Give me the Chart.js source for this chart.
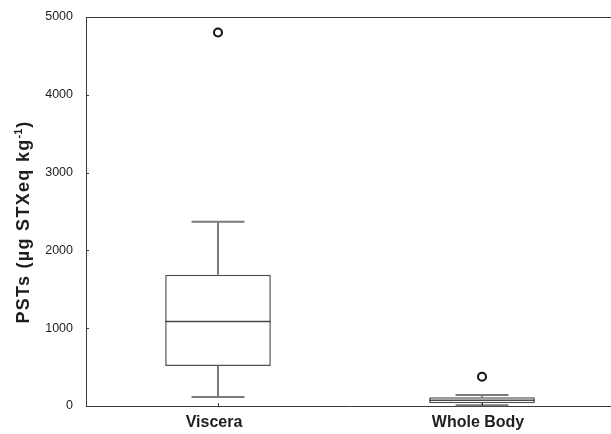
<!DOCTYPE html>
<html>
<head>
<meta charset="utf-8">
<script src="https://cdn.jsdelivr.net/npm/chart.js@4/dist/chart.umd.min.js"></script>
<style>
  html, body { margin: 0; padding: 0; background: #fff; overflow: hidden; }
  #wrap { width: 616px; height: 434px; }
</style>
</head>
<body>
<div id="wrap"><canvas id="c" width="616" height="434"></canvas></div>
<script>
// ---- data ----
const categories   = ['Viscera', 'Whole Body'];
const whiskerLow   = [116, 9];
const quartile1    = [515, 35];
const medianValues = [1085, 73];
const quartile3    = [1686, 112];
const whiskerHigh  = [2368, 142];
const outlierVals  = [4800, 377];
const yTicks       = [0, 1000, 2000, 3000, 4000, 5000];
const yTitleMain   = 'PSTs (µg STXeq kg';
const yTitleSup    = '-1';
const yTitleEnd    = ')';

const FONT = '"Liberation Sans", Arial, Helvetica, sans-serif';
const AXIS_COLOR = '#3a3a3a';

const boxPlugin = {
  id: 'boxParts',
  afterDatasetsDraw(chart) {
    const ctx = chart.ctx;
    const y = chart.scales.y;
    const meta = chart.getDatasetMeta(0);
    ctx.save();
    meta.data.forEach((bar, i) => {
      const cx = bar.x;
      const half = bar.width / 2;
      const capHalf = bar.width * 0.25;
      const pHigh = y.getPixelForValue(whiskerHigh[i]);
      const pQ3 = y.getPixelForValue(quartile3[i]);
      const pQ1 = y.getPixelForValue(quartile1[i]);
      const pLow = y.getPixelForValue(whiskerLow[i]);
      const pMed = y.getPixelForValue(medianValues[i]);
      // whiskers
      ctx.strokeStyle = '#7a7a7a';
      ctx.lineWidth = 2;
      ctx.beginPath();
      ctx.moveTo(cx, pQ3); ctx.lineTo(cx, pHigh);
      ctx.moveTo(cx, pQ1); ctx.lineTo(cx, pLow);
      ctx.moveTo(cx - capHalf, pHigh); ctx.lineTo(cx + capHalf, pHigh);
      ctx.moveTo(cx - capHalf, pLow); ctx.lineTo(cx + capHalf, pLow);
      ctx.stroke();
      // median
      ctx.strokeStyle = '#4a4a4a';
      ctx.lineWidth = 1.5;
      ctx.beginPath();
      ctx.moveTo(cx - half, pMed); ctx.lineTo(cx + half, pMed);
      ctx.stroke();
    });
    ctx.restore();
  },
  afterDraw(chart) {
    const ctx = chart.ctx;
    const a = chart.chartArea;
    const y = chart.scales.y;
    const x = chart.scales.x;
    ctx.save();
    ctx.strokeStyle = AXIS_COLOR;
    ctx.lineWidth = 1;
    // top frame line
    ctx.beginPath();
    ctx.moveTo(a.left, a.top + 0.5); ctx.lineTo(a.right, a.top + 0.5);
    ctx.stroke();
    // inward ticks
    ctx.beginPath();
    yTicks.forEach(v => {
      const py = Math.round(y.getPixelForValue(v)) + 0.5;
      ctx.moveTo(a.left, py); ctx.lineTo(a.left + 3, py);
    });
    categories.forEach((c, i) => {
      const px = Math.round(x.getPixelForValue(i)) + 0.5;
      ctx.moveTo(px, a.bottom); ctx.lineTo(px, a.bottom - 3);
    });
    ctx.stroke();
    // y axis title (rotated, with superscript)
    const mainFont = 'bold 18px ' + FONT;
    const supFont = 'bold 11px ' + FONT;
    ctx.font = mainFont;
    ctx.letterSpacing = '1.3px';
    const w1 = ctx.measureText(yTitleMain).width;
    const w3 = ctx.measureText(yTitleEnd).width;
    ctx.font = supFont;
    ctx.letterSpacing = '0px';
    const w2 = ctx.measureText(yTitleSup).width + 1;
    const total = w1 + w2 + w3;
    ctx.translate(24, 222);
    ctx.rotate(-Math.PI / 2);
    ctx.fillStyle = '#1e1e1e';
    ctx.textBaseline = 'middle';
    ctx.textAlign = 'left';
    let sx = -total / 2;
    ctx.font = mainFont;
    ctx.letterSpacing = '1.3px';
    ctx.fillText(yTitleMain, sx, 0);
    sx += w1;
    ctx.font = supFont;
    ctx.letterSpacing = '0px';
    ctx.fillText(yTitleSup, sx, -5);
    sx += w2;
    ctx.font = mainFont;
    ctx.fillText(yTitleEnd, sx, 0);
    ctx.restore();
  }
};

new Chart(document.getElementById('c'), {
  type: 'bar',
  data: {
    labels: categories,
    datasets: [
      {
        label: 'Box',
        data: categories.map((c, i) => [quartile1[i], quartile3[i]]),
        backgroundColor: '#ffffff',
        borderColor: '#505050',
        borderWidth: 1.5,
        borderSkipped: false,
        barPercentage: 0.4,
        categoryPercentage: 1.0,
        order: 2
      },
      {
        type: 'line',
        label: 'Outliers',
        data: outlierVals,
        showLine: false,
        pointRadius: 4,
        pointHoverRadius: 4,
        pointBorderWidth: 2,
        pointBorderColor: '#111111',
        pointBackgroundColor: '#ffffff',
        order: 1
      }
    ]
  },
  options: {
    responsive: false,
    animation: false,
    devicePixelRatio: 1,
    layout: { autoPadding: false, padding: { left: 0, right: 2, top: 17, bottom: 0 } },
    plugins: { legend: { display: false }, tooltip: { enabled: false }, title: { display: false } },
    scales: {
      x: {
        type: 'category',
        offset: true,
        grid: { display: false, drawTicks: false },
        border: { display: true, color: AXIS_COLOR, width: 1 },
        ticks: {
          color: '#1e1e1e',
          font: { family: FONT, size: 16, weight: 'bold' },
          padding: 7,
          labelOffset: -4,
          maxRotation: 0
        },
        afterFit(s) { s.height = 28; s.paddingLeft = 0; s.paddingRight = 0; }
      },
      y: {
        min: 0,
        max: 5000,
        afterBuildTicks(s) { s.ticks = yTicks.map(v => ({ value: v })); },
        grid: { display: false, drawTicks: false },
        border: { display: true, color: AXIS_COLOR, width: 1 },
        ticks: {
          color: '#1e1e1e',
          font: { family: FONT, size: 12.5 },
          padding: 13,
          callback: v => String(v)
        },
        afterFit(s) { s.width = 86; s.paddingTop = 0; s.paddingBottom = 0; }
      }
    }
  },
  plugins: [boxPlugin]
});
</script>
</body>
</html>
